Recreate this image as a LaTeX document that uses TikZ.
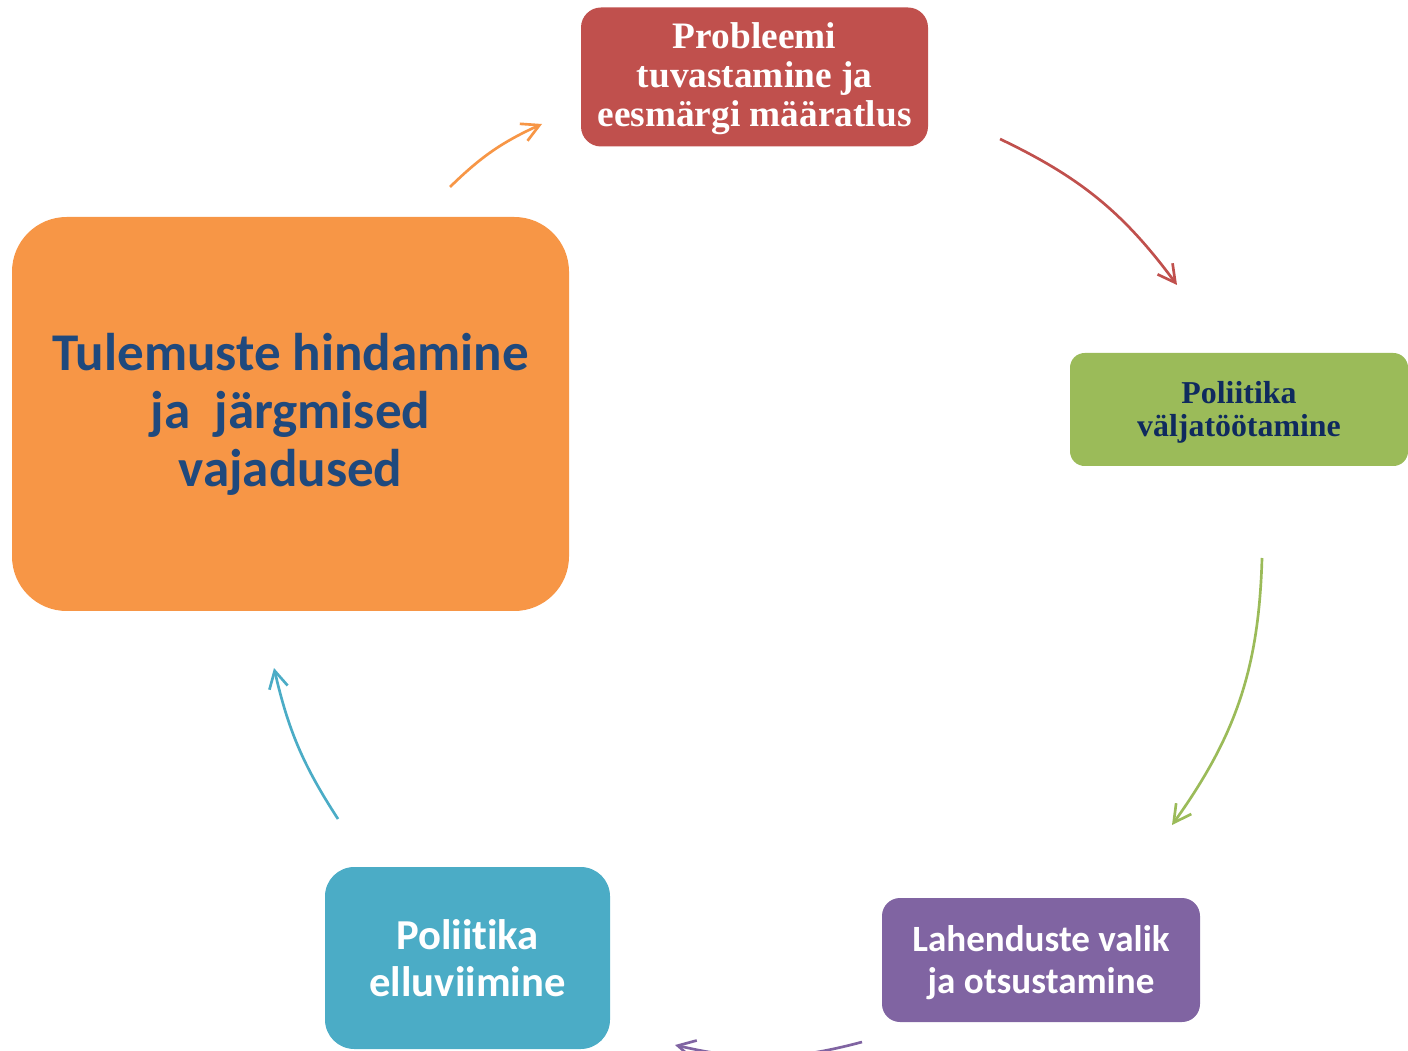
\documentclass[tikz,border=0pt]{standalone}
\usepackage{fontspec}
\usetikzlibrary{arrows.meta}
\newfontfamily\tnrfont{Liberation Serif}
\newfontfamily\calfont[Ligatures={NoCommon,NoRare,NoDiscretionary}]{Carlito}
\definecolor{cRed}{HTML}{C0504D}
\definecolor{cGreen}{HTML}{9BBB59}
\definecolor{cPurple}{HTML}{8064A2}
\definecolor{cBlue}{HTML}{4BACC6}
\definecolor{cOrange}{HTML}{F79646}
\definecolor{cNavy}{HTML}{1F497D}
\definecolor{cDark}{HTML}{0F2A5E}
\tikzset{
  box/.style={rectangle, inner sep=0pt},
  txt/.style={align=center, inner sep=0pt},
  cyc/.style={line width=2pt, -{Straight Barb[length=13pt,width=14pt,line width=2pt]}, bend left=#1},
}
\begin{document}
\begin{tikzpicture}[x=0.75pt,y=0.75pt]
\useasboundingbox (0,0) rectangle (1408,1050);
% boxes
\node[box, fill=cRed, rounded corners=15pt, minimum width=260.25pt, minimum height=104.25pt] (prob) at (754.5,973) {};
\node[txt, text=white, font=\tnrfont\bfseries\fontsize{28}{29.2}\selectfont] (probt) at (754.5,971)
  {Probleemi\\tuvastamine ja\\eesmärgi määratlus};
\node[box, fill=cGreen, rounded corners=11pt, minimum width=253.5pt, minimum height=84.75pt] (dev) at (1239,640.5) {};
\node[txt, text=cDark, font=\tnrfont\bfseries\fontsize{23.9}{25}\selectfont] (devt) at (1239,637.5)
  {Poliitika\\väljatöötamine};
\node[box, fill=cPurple, rounded corners=13.5pt, minimum width=238.5pt, minimum height=93pt] (sel) at (1041,90) {};
\node[txt, text=white, font=\calfont\bfseries\fontsize{27.8}{31.5}\selectfont] (selt) at (1041,87)
  {Lahenduste valik\\ja otsustamine};
\node[box, fill=cBlue, rounded corners=22pt, minimum width=213.75pt, minimum height=136.5pt] (impl) at (467.5,92) {};
\node[txt, text=white, font=\calfont\bfseries\fontsize{32}{35}\selectfont] (implt) at (467.5,92)
  {Poliitika\\elluviimine};
\node[box, fill=cOrange, rounded corners=41pt, minimum width=417.75pt, minimum height=295.5pt] (eval) at (290.5,636) {};
\node[txt, text=cNavy, font=\calfont\bfseries\fontsize{39.8}{43.5}\selectfont] (evalt) at (290.5,636)
  {Tulemuste hindamine\\ja\ \ järgmised\\vajadused};
% arrow ends
\coordinate (o1) at (450,863);
\coordinate (o2) at (542,926);
\coordinate (r1) at (1000,911);
\coordinate (r2) at (1177,765);
\coordinate (g1) at (1262,492);
\coordinate (g2) at (1172,225);
\coordinate (p1) at (862,8);
\coordinate (p2) at (675,5);
\coordinate (b1) at (338,231);
\coordinate (b2) at (274,382);
% arrows
\draw[cyc=10, cOrange] (o1) to (o2);
\draw[cyc=14, cRed] (r1) to (r2);
\draw[cyc=17, cGreen] (g1) to (g2);
\draw[cyc=14, cPurple] (p1) to (p2);
\draw[cyc=10, cBlue] (b1) to (b2);
\end{tikzpicture}
\end{document}
